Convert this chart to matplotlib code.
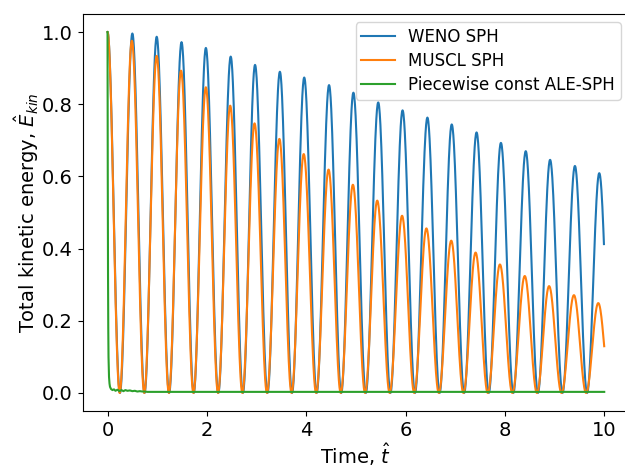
import numpy as np
import matplotlib
matplotlib.use("Agg")
import matplotlib.pyplot as plt

# ---- data ----
t_end = 10.0

weno_peak_t = [0.0, 0.50, 0.99, 1.49, 1.98, 2.48, 2.97, 3.47, 3.96, 4.46, 4.95,
               5.45, 5.94, 6.44, 6.93, 7.43, 7.92, 8.42, 8.91, 9.41, 9.90]
weno_peak_v = [1.000, 0.996, 0.987, 0.972, 0.956, 0.932, 0.909, 0.890, 0.874, 0.853, 0.832,
               0.805, 0.783, 0.763, 0.744, 0.722, 0.693, 0.670, 0.646, 0.629, 0.609]

muscl_peak_t = [0.0, 0.49, 0.99, 1.48, 1.98, 2.47, 2.96, 3.46, 3.95, 4.45, 4.94,
                5.43, 5.93, 6.42, 6.92, 7.41, 7.90, 8.40, 8.89, 9.39, 9.88]
muscl_peak_v = [1.000, 0.976, 0.934, 0.893, 0.847, 0.796, 0.747, 0.704, 0.662, 0.619, 0.577,
                0.533, 0.491, 0.456, 0.422, 0.389, 0.356, 0.324, 0.296, 0.271, 0.249]

ale_t = [0.0, 0.005, 0.01, 0.015, 0.02, 0.03, 0.04, 0.05, 0.07, 0.10, 0.13, 0.16,
         0.20, 0.24, 0.28, 0.32, 0.36, 0.40, 0.45, 0.50, 0.55, 0.60, 0.65, 0.70,
         0.75, 0.80, 1.0, 2.0, 4.0, 6.0, 8.0, 10.0]
ale_v = [1.0, 0.60, 0.33, 0.18, 0.10, 0.045, 0.026, 0.017, 0.011, 0.008, 0.010, 0.006,
         0.009, 0.005, 0.008, 0.005, 0.008, 0.006, 0.007, 0.005, 0.006, 0.004, 0.005, 0.004,
         0.004, 0.003, 0.003, 0.003, 0.003, 0.003, 0.003, 0.003]

labels = ["WENO SPH", "MUSCL SPH", "Piecewise const ALE-SPH"]


def oscillation(peak_t, peak_v, t_stop, n_per_half=40):
    """Piecewise cos^2 arches between the read peaks (troughs half-way)."""
    ts, vs = [], []
    for i in range(len(peak_t)):
        t0 = peak_t[i]
        half = (peak_t[i + 1] - t0) / 2 if i + 1 < len(peak_t) else (peak_t[i] - peak_t[i - 1]) / 2
        tt = np.linspace(t0, t0 + half, n_per_half)
        ts.append(tt)
        vs.append(peak_v[i] * np.cos(np.pi / 2 * (tt - t0) / half) ** 2)
        if i + 1 < len(peak_t):
            t1 = peak_t[i + 1]
            tt = np.linspace(t0 + half, t1, n_per_half)
            ts.append(tt)
            vs.append(peak_v[i + 1] * np.cos(np.pi / 2 * (t1 - tt) / half) ** 2)
    t = np.concatenate(ts)
    v = np.concatenate(vs)
    m = t <= t_stop
    return t[m], v[m]


fig = plt.figure(figsize=(6.25, 4.67), dpi=100)
ax = fig.add_axes([0.1323, 0.1199, 0.8742, 0.8501])

tw, vw = oscillation(weno_peak_t, weno_peak_v, t_end)
tm, vm = oscillation(muscl_peak_t, muscl_peak_v, t_end)
ax.plot(tw, vw, color="#1f77b4", lw=1.5, label=labels[0])
ax.plot(tm, vm, color="#ff7f0e", lw=1.5, label=labels[1])
ax.plot(ale_t, ale_v, color="#2ca02c", lw=1.5, label=labels[2])

ax.set_xlim(-0.5, 10.5)
ax.set_ylim(-0.05, 1.05)
ax.set_xticks([0, 2, 4, 6, 8, 10])
ax.set_yticks([0.0, 0.2, 0.4, 0.6, 0.8, 1.0])
ax.tick_params(labelsize=14)
ax.set_xlabel(r"Time, $\hat{t}$", fontsize=14, labelpad=1)
ax.set_ylabel(r"Total kinetic energy, $\hat{E}_{kin}$", fontsize=14, labelpad=1)
ax.legend(loc="upper right", fontsize=12, labelspacing=0.35, borderpad=0.35)

fig.savefig("out.png", dpi=100)
